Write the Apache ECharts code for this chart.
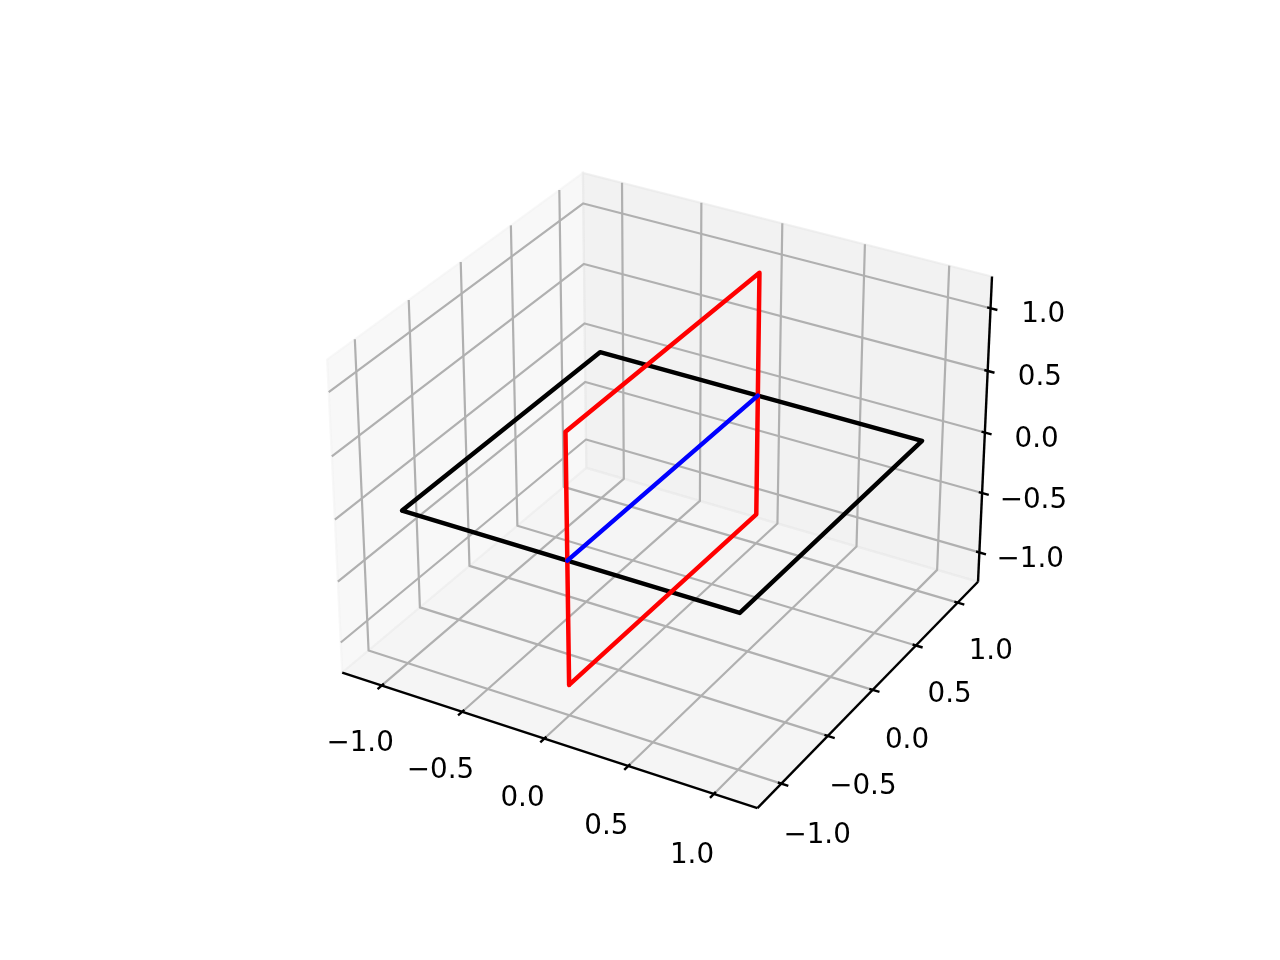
<!DOCTYPE html>
<html>
<head>
<meta charset="utf-8">
<title>3D planes</title>
<style>
  html, body { margin: 0; padding: 0; background: #fff; }
  #main { width: 1280px; height: 960px; }
</style>
<script src="https://cdn.jsdelivr.net/npm/echarts@6/dist/echarts.min.js"></script>
</head>
<body>
<div id="main"></div>
<script>
// chart values, as (x, y, z)
const ticks = [-1, -0.5, 0, 0.5, 1];
const tickLabels = ['\u22121.0', '\u22120.5', '0.0', '0.5', '1.0'];
const blackSquare = [[-1, -1, 0], [1, -1, 0], [1, 1, 0], [-1, 1, 0], [-1, -1, 0]];
const redSquare = [[0, -1, -1], [0, 1, -1], [0, 1, 1], [0, -1, 1], [0, -1, -1]];
const blueLine = [[0, -1, 0], [0, 1, 0]];

// axis limits of the box
const lo = -1.25, hi = 1.25;

// same camera as a default mplot3d axes: elev 30, azim -60, dist 10
const elev = 30 * Math.PI / 180, azim = -60 * Math.PI / 180, dist = 10;
const boxNorm = Math.sqrt(41);
const boxScale = 1.8294640721620434 * 25 / 24 / boxNorm;
const box = [4 * boxScale, 4 * boxScale, 3 * boxScale];

function sub(a, b) { return [a[0] - b[0], a[1] - b[1], a[2] - b[2]]; }
function dot(a, b) { return a[0] * b[0] + a[1] * b[1] + a[2] * b[2]; }
function cross(a, b) {
  return [a[1] * b[2] - a[2] * b[1], a[2] * b[0] - a[0] * b[2], a[0] * b[1] - a[1] * b[0]];
}
function unit(a) { let n = Math.sqrt(dot(a, a)); return [a[0] / n, a[1] / n, a[2] / n]; }

const center = box.map(v => v / 2);
const w = [Math.cos(elev) * Math.cos(azim), Math.cos(elev) * Math.sin(azim), Math.sin(elev)];
const eye = center.map((c, i) => c + dist * w[i]);
const u = unit(cross([0, 0, 1], w));
const v = cross(w, u);

function project(p) {
  let world = p.map((c, i) => (c - lo) / (hi - lo) * box[i]);
  let d = sub(world, eye);
  let depth = -dot(w, d);
  return [dot(u, d) / depth, dot(v, d) / depth];
}

const panes = [
  {pts: [[lo, lo, lo], [lo, hi, lo], [lo, hi, hi], [lo, lo, hi]], color: 'rgba(242,242,242,0.5)'},
  {pts: [[lo, hi, lo], [hi, hi, lo], [hi, hi, hi], [lo, hi, hi]], color: 'rgba(230,230,230,0.5)'},
  {pts: [[lo, lo, lo], [hi, lo, lo], [hi, hi, lo], [lo, hi, lo]], color: 'rgba(236,236,236,0.5)'}
];

function line(pts, color, width, cap) {
  return {
    type: 'line',
    data: pts.map(project),
    showSymbol: false,
    silent: true,
    clip: false,
    lineStyle: {color: color, width: width, cap: cap || 'butt', join: 'round'}
  };
}

let series = [{
  type: 'custom',
  silent: true,
  clip: false,
  data: panes.map((p, i) => [i]),
  renderItem(params, api) {
    let pane = panes[params.dataIndex];
    return {
      type: 'polygon',
      shape: {points: pane.pts.map(p => api.coord(project(p)))},
      style: {fill: pane.color, stroke: pane.color, lineWidth: 2.2}
    };
  }
}];

// grid lines
const gridColor = '#b0b0b0', gridWidth = 2.2;
ticks.forEach(t => {
  series.push(line([[t, lo, lo], [t, hi, lo], [t, hi, hi]], gridColor, gridWidth));
  series.push(line([[lo, t, hi], [lo, t, lo], [hi, t, lo]], gridColor, gridWidth));
  series.push(line([[lo, lo, t], [lo, hi, t], [hi, hi, t]], gridColor, gridWidth));
});

// axis lines
series.push(line([[lo, lo, lo], [hi, lo, lo]], '#000', 2.4));
series.push(line([[hi, lo, lo], [hi, hi, lo]], '#000', 2.4));
series.push(line([[hi, hi, lo], [hi, hi, hi]], '#000', 2.4));

// tick marks
const tOut = 0.04, tIn = 0.02;
ticks.forEach(t => {
  series.push(line([[t, lo + tIn, lo], [t, lo - tOut, lo]], '#000', 2.4));
  series.push(line([[hi - tIn, t, lo], [hi + tOut, t, lo]], '#000', 2.4));
  series.push(line([[hi - tIn, hi, t], [hi + tOut, hi, t]], '#000', 2.4));
});

// tick labels
function labels(posOf) {
  return {
    type: 'scatter',
    symbolSize: 0,
    silent: true,
    clip: false,
    itemStyle: {opacity: 1},
    data: ticks.map((t, i) => ({value: project(posOf(t)), name: tickLabels[i]})),
    label: {
      show: true,
      position: 'inside',
      formatter: '{b}',
      color: '#000',
      fontFamily: 'DejaVu Sans',
      fontSize: 27.78,
      align: 'center',
      verticalAlign: 'middle'
    }
  };
}
series.push(labels(t => [t, lo - 0.221, lo - 0.322]));
series.push(labels(t => [hi + 0.21, t, lo - 0.33]));
series.push(labels(t => [hi + 0.274, hi + 0.0665, t]));

// the planes and their intersection
series.push(line(blackSquare, '#000', 4.5, 'round'));
series.push(line(redSquare, '#f00', 4.5, 'round'));
series.push(line(blueLine, '#00f', 4.5, 'round'));

let chart = echarts.init(document.getElementById('main'));
chart.setOption({
  animation: false,
  backgroundColor: '#fff',
  grid: {left: 286.4, top: 105.6, width: 739.2, height: 739.2},
  xAxis: {type: 'value', min: -0.095, max: 0.09, show: false},
  yAxis: {type: 'value', min: -0.0925, max: 0.0925, show: false},
  series: series
});
</script>
</body>
</html>
